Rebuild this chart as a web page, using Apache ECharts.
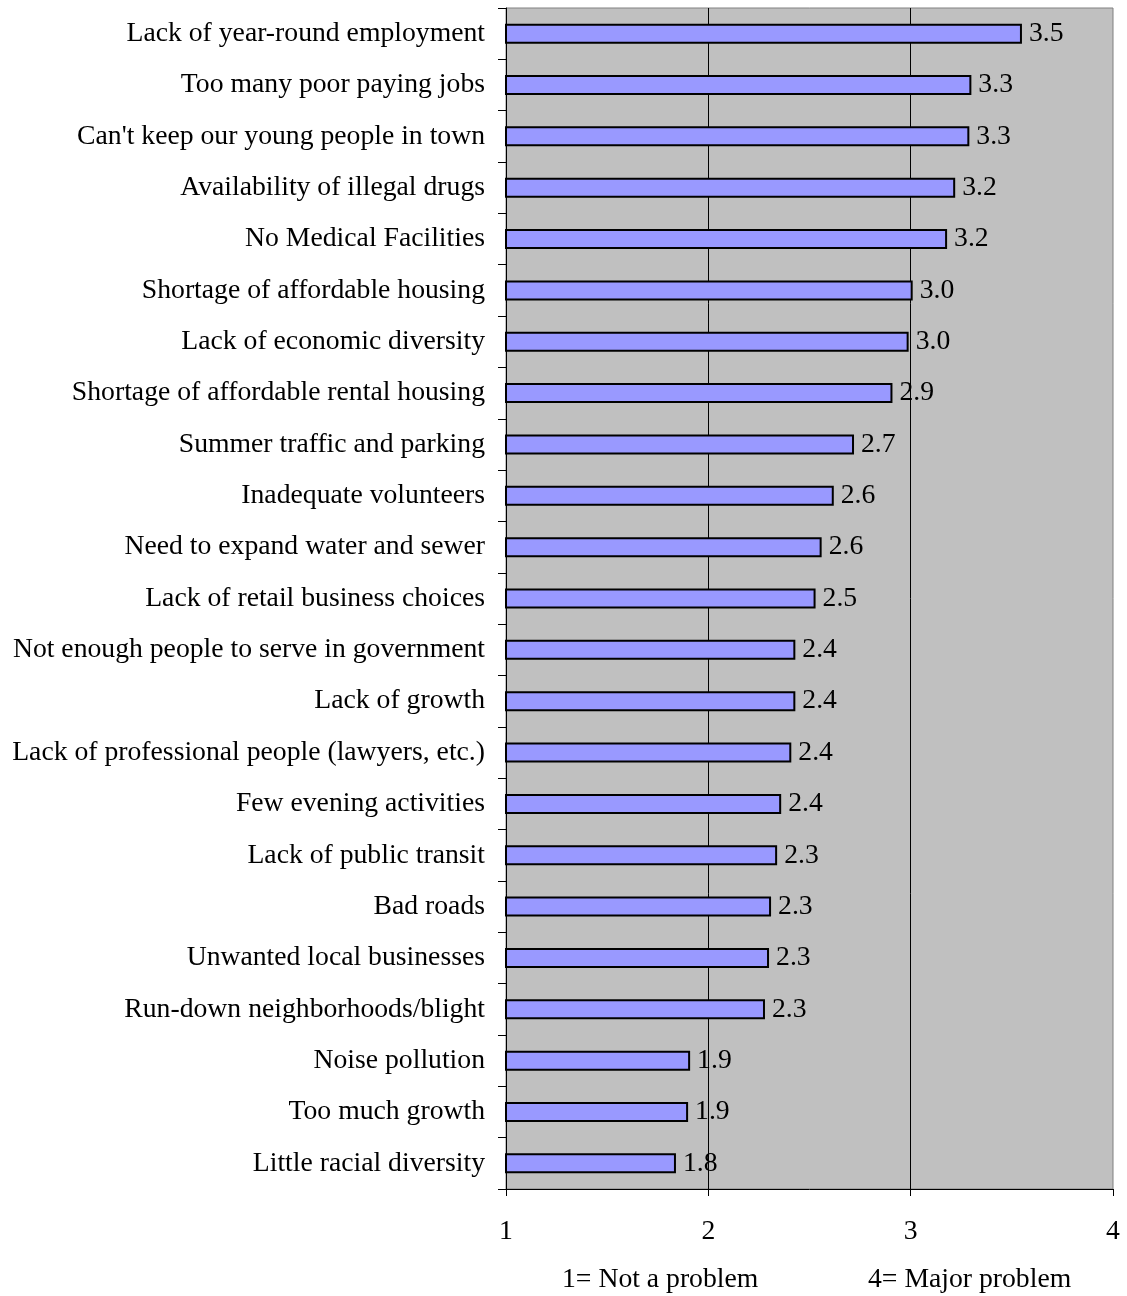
<!DOCTYPE html>
<html>
<head>
<meta charset="utf-8">
<script src="https://cdn.jsdelivr.net/npm/echarts@6/dist/echarts.min.js"></script>
<style>html,body{margin:0;padding:0;background:#fff}#c{width:1127px;height:1296px}</style>
</head>
<body>
<div id="c"></div>
<script>
const categories = [
  "Lack of year-round employment",
  "Too many poor paying jobs",
  "Can't keep our young people in town",
  "Availability of illegal drugs",
  "No Medical Facilities",
  "Shortage of affordable housing",
  "Lack of economic diversity",
  "Shortage of affordable rental housing",
  "Summer traffic and parking",
  "Inadequate volunteers",
  "Need to expand water and sewer",
  "Lack of retail business choices",
  "Not enough people to serve in government",
  "Lack of growth",
  "Lack of professional people (lawyers, etc.)",
  "Few evening activities",
  "Lack of public transit",
  "Bad roads",
  "Unwanted local businesses",
  "Run-down neighborhoods/blight",
  "Noise pollution",
  "Too much growth",
  "Little racial diversity"
];
const values = [3.55, 3.30, 3.29, 3.22, 3.18, 3.01, 2.99, 2.91, 2.72, 2.62, 2.56, 2.53, 2.43, 2.43, 2.41, 2.36, 2.34, 2.31, 2.30, 2.28, 1.91, 1.90, 1.84];
const xTicks = [1, 2, 3, 4];
const noteLeft = "1= Not a problem";
const noteRight = "4= Major problem";

const FONT = "'Liberation Serif', 'Times New Roman', serif";
const FS = 27.7;
const chart = echarts.init(document.getElementById('c'), null, {renderer: 'canvas'});
chart.setOption({
  animation: false,
  backgroundColor: '#ffffff',
  textStyle: {fontFamily: FONT},
  grid: {left: 506, right: 14, top: 8, bottom: 107, show: true, backgroundColor: '#C0C0C0', borderColor: '#808080', borderWidth: 1},
  xAxis: {
    type: 'value', min: xTicks[0], max: xTicks[xTicks.length - 1], interval: 1,
    axisLine: {show: true, lineStyle: {color: '#000', width: 1}},
    axisTick: {show: true, length: 7, lineStyle: {color: '#000'}},
    axisLabel: {fontFamily: FONT, fontSize: FS, color: '#000', margin: 29},
    splitLine: {show: true, showMinLine: false, showMaxLine: false, lineStyle: {color: '#000', width: 1}}
  },
  yAxis: {
    type: 'category', data: categories, inverse: true,
    axisLine: {show: true, lineStyle: {color: '#000', width: 1}},
    axisTick: {show: true, length: 8, lineStyle: {color: '#000'}},
    axisLabel: {fontFamily: FONT, fontSize: FS, color: '#000', margin: 21, padding: [3, 0, 0, 0]}
  },
  series: [{
    type: 'bar', data: values, barWidth: 20,
    itemStyle: {color: '#9999FF', borderColor: '#000', borderWidth: 2},
    label: {show: true, position: 'right', distance: 7, fontFamily: FONT, fontSize: FS, color: '#000',
      padding: [3, 0, 0, 0], formatter: p => p.value.toFixed(1)}
  }],
  graphic: [
    {type: 'text', left: 562, top: 1266, style: {text: noteLeft, fontFamily: FONT, fontSize: FS, fill: '#000'}},
    {type: 'text', left: 868, top: 1266, style: {text: noteRight, fontFamily: FONT, fontSize: FS, fill: '#000'}}
  ]
});
</script>
</body>
</html>
